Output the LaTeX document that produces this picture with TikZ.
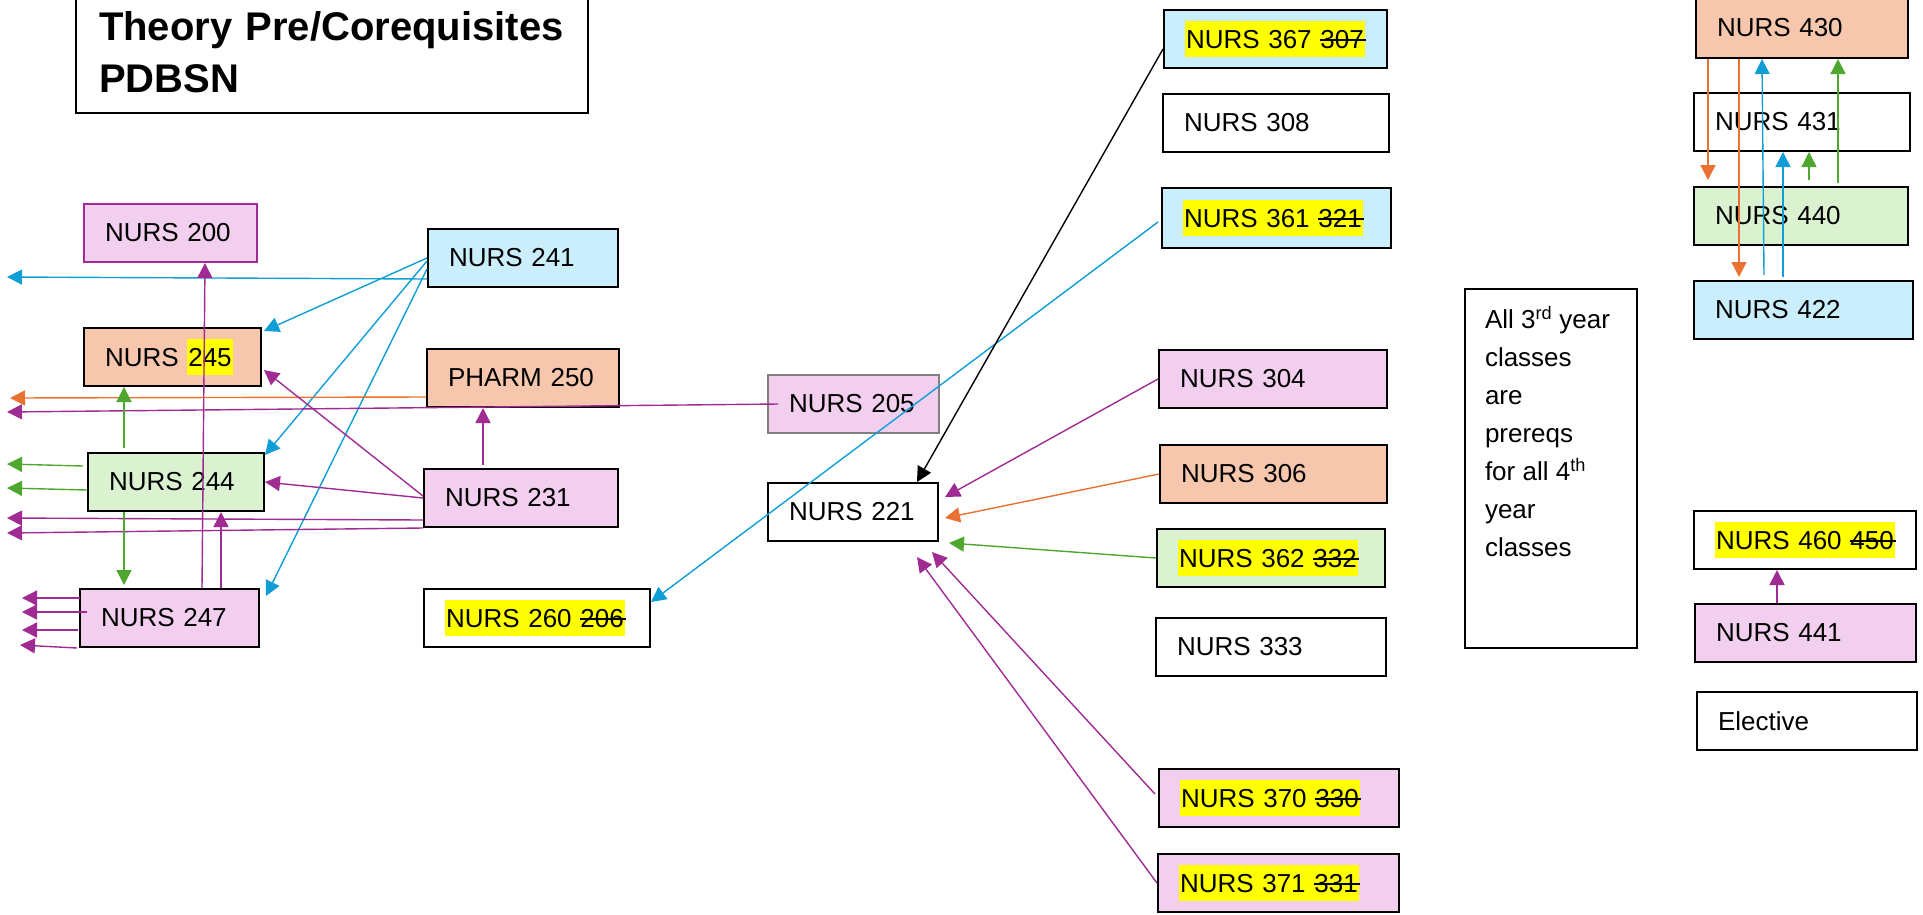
\documentclass[tikz,border=0pt]{standalone}
\usepackage{fontspec}
\setmainfont{Liberation Sans}
\usetikzlibrary{arrows.meta}

\definecolor{purp}{HTML}{A02B93}
\definecolor{orng}{HTML}{E97132}
\definecolor{blu}{HTML}{0F9ED5}
\definecolor{grn}{HTML}{4EA72E}
\definecolor{pinkfill}{HTML}{F2CFEE}
\definecolor{salmonfill}{HTML}{F6C6AD}
\definecolor{bluefill}{HTML}{CAEEFB}
\definecolor{greenfill}{HTML}{DAF2D0}
\definecolor{hlyellow}{HTML}{FFFF00}

\newsavebox{\strkbox}
\newcommand{\strikeout}[1]{\sbox{\strkbox}{#1}\rlap{\rule[7pt]{\dimexpr\wd\strkbox+2pt\relax}{2.2pt}}\usebox{\strkbox}}
\newcommand{\hilite}[1]{{\setlength{\fboxsep}{1pt}\colorbox{hlyellow}{\rule[-8pt]{0pt}{34pt}#1}}}

\tikzset{
  course/.style={draw=black, line width=2pt, anchor=north west, minimum height=58pt,
    inner xsep=21pt, inner ysep=0pt, align=left, font=\fontsize{26}{31}\selectfont},
  pinkc/.style={course, fill=pinkfill},
  salmonc/.style={course, fill=salmonfill},
  bluec/.style={course, fill=bluefill},
  greenc/.style={course, fill=greenfill},
  req/.style={line width=1.4pt, -{Triangle[length=15pt,width=15pt]}},
}

\begin{document}
\begin{tikzpicture}[x=1pt, y=-1pt]
  \useasboundingbox (0,0) rectangle (1923,914);

  % Title
  \node[course, minimum height=122pt, inner xsep=23pt, text width=466pt,
    font=\bfseries\fontsize{40}{52}\selectfont] (title) at (75,-10) {Theory Pre/Corequisites\\PDBSN};

  % First and second year
  \node[pinkc, draw=purp, text width=131pt] (n200) at (83,203) {NURS 200};
  \node[bluec, text width=148pt] (n241) at (427,228) {NURS 241};
  \node[salmonc, text width=135pt] (n245) at (83,327) {NURS \hilite{245}};
  \node[salmonc, text width=150pt] (n250) at (426,348) {PHARM 250};
  \node[pinkc, draw=gray, text width=129pt] (n205) at (767,374) {NURS 205};
  \node[greenc, text width=134pt] (n244) at (87,452) {NURS 244};
  \node[pinkc, text width=152pt] (n231) at (423,468) {NURS 231};
  \node[course, text width=128pt] (n221) at (767,482) {NURS 221};
  \node[pinkc, text width=137pt] (n247) at (79,588) {NURS 247};
  \node[course, text width=184pt] (n260) at (423,588) {\hilite{NURS 260 \strikeout{206}}};

  % Third year
  \node[bluec, text width=181pt] (n367) at (1163,9) {\hilite{NURS 367 \strikeout{307}}};
  \node[course, text width=184pt] (n308) at (1162,93) {NURS 308};
  \node[bluec, minimum height=60pt, text width=187pt] (n361) at (1161,187) {\hilite{NURS 361 \strikeout{321}}};
  \node[pinkc, text width=186pt] (n304) at (1158,349) {NURS 304};
  \node[salmonc, text width=185pt] (n306) at (1159,444) {NURS 306};
  \node[greenc, text width=186pt] (n362) at (1156,528) {\hilite{NURS 362 \strikeout{332}}};
  \node[course, text width=188pt] (n333) at (1155,617) {NURS 333};
  \node[pinkc, text width=198pt] (n370) at (1158,768) {\hilite{NURS 370 \strikeout{330}}};
  \node[pinkc, text width=199pt] (n371) at (1157,853) {\hilite{NURS 371 \strikeout{331}}};

  \node[course, minimum height=359pt, inner xsep=20pt, inner ysep=17pt] (note) at (1464,288)
    {\parbox[c][325pt][t]{132pt}{\raggedright\fontsize{26}{38}\selectfont
      All 3\textsuperscript{rd} year\\classes\\are\\prereqs\\for all 4\textsuperscript{th}\\year\\classes}};

  % Fourth year
  \node[salmonc, minimum height=61pt, text width=170pt] (n430) at (1695,-4) {NURS 430};
  \node[course, text width=174pt] (n431) at (1693,92) {NURS 431};
  \node[greenc, text width=172pt] (n440) at (1693,186) {NURS 440};
  \node[bluec, text width=177pt] (n422) at (1693,280) {NURS 422};
  \node[course, text width=180pt] (n460) at (1693,510) {\hilite{NURS 460 \strikeout{450}}};
  \node[pinkc, text width=179pt] (n441) at (1694,603) {NURS 441};
  \node[course, text width=178pt] (elective) at (1696,691) {Elective};

  % Loose ends on the left margin
  \coordinate (w241) at (7,277);
  \coordinate (w250) at (10,398);
  \coordinate (w205) at (7,412);
  \coordinate (w244a) at (7,464);
  \coordinate (w244b) at (7,488);
  \coordinate (w231a) at (7,518);
  \coordinate (w231b) at (7,533);
  \coordinate (w247a) at (22,598);
  \coordinate (w247b) at (22,612);
  \coordinate (w247c) at (22,630);
  \coordinate (w247d) at (20,645);

  % Prerequisite arrows, first and second year
  \draw[req, blu] ([yshift=9pt]n241.south west) -- (w241);
  \draw[req, blu] (n241.west) -- ([xshift=2pt,yshift=-4pt]n245.north east);
  \draw[req, blu] ([yshift=-3pt]n241.west) -- ([yshift=-3pt]n244.north east);
  \draw[req, blu] ([yshift=-11pt]n241.west) -- ([xshift=6pt,yshift=-8pt]n247.north east);
  \draw[req, purp] ([xshift=32.5pt]n247.north) -- ([xshift=34.5pt]n200.south);
  \draw[req, orng] ([yshift=11pt]n250.south west) -- (w250);
  \draw[req, purp] ([xshift=11pt]n205.west) -- (w205);
  \draw[req, grn] ([xshift=37pt,yshift=4pt]n244.north west) -- ([xshift=41pt]n245.south west);
  \draw[req, purp] ([yshift=2pt]n231.west) -- ([xshift=2pt,yshift=-13pt]n245.east);
  \draw[req, purp] (n231.west) -- (n244.east);
  \draw[req, grn] ([xshift=-4pt,yshift=16pt]n244.west) -- (w244a);
  \draw[req, grn] ([yshift=-8pt]n244.west) -- (w244b);
  \draw[req, purp] ([yshift=8pt]n231.south west) -- (w231a);
  \draw[req, purp] (n231.south west) -- (w231b);
  \draw[req, grn] ([xshift=37pt]n244.south west) -- ([xshift=45pt,yshift=3pt]n247.north west);
  \draw[req, purp] ([xshift=142pt]n247.north west) -- ([xshift=134pt]n244.south west);
  \draw[req, purp] ([xshift=1pt,yshift=-10pt]n247.north west) -- (w247a);
  \draw[req, purp] ([xshift=8pt,yshift=-24pt]n247.north west) -- (w247b);
  \draw[req, purp] ([xshift=-1pt,yshift=-42pt]n247.north west) -- (w247c);
  \draw[req, purp] ([xshift=-2pt]n247.south west) -- (w247d);
  \draw[req, purp] ([xshift=-38pt,yshift=3pt]n231.north) -- ([xshift=-40pt]n250.south);

  % Prerequisite arrows, third year
  \draw[req, blu] ([xshift=-3pt,yshift=-4pt]n361.west) -- ([yshift=-14pt]n260.north east);
  \draw[req, black] ([yshift=-10pt]n367.west) -- ([xshift=-22pt]n221.north east);
  \draw[req, purp] (n304.west) -- ([xshift=6pt,yshift=15pt]n221.east);
  \draw[req, orng] (n306.west) -- ([xshift=6pt,yshift=-6pt]n221.east);
  \draw[req, grn] (n362.west) -- ([xshift=10pt,yshift=-1pt]n221.south east);
  \draw[req, purp] ([xshift=-3pt,yshift=4pt]n370.west) -- ([xshift=-7pt,yshift=-10pt]n221.south east);
  \draw[req, purp] (n371.west) -- ([xshift=-22pt,yshift=-15pt]n221.south east);

  % Prerequisite arrows, fourth year
  \draw[req, orng] ([xshift=13pt]n430.south west) -- ([xshift=15pt,yshift=6pt]n440.north west);
  \draw[req, orng] ([xshift=44pt]n430.south west) -- ([xshift=46pt,yshift=3pt]n422.north west);
  \draw[req, blu] ([xshift=71pt,yshift=5pt]n422.north west) -- ([xshift=67pt]n430.south west);
  \draw[req, blu] ([xshift=90pt,yshift=3pt]n422.north west) -- ([xshift=90pt]n431.south west);
  \draw[req, grn] ([xshift=116pt,yshift=6pt]n440.north west) -- ([xshift=116pt]n431.south west);
  \draw[req, grn] ([xshift=145pt,yshift=3pt]n440.north west) -- ([xshift=143pt]n430.south west);
  \draw[req, purp] ([xshift=83pt]n441.north west) -- ([xshift=84pt]n460.south west);
\end{tikzpicture}
\end{document}
